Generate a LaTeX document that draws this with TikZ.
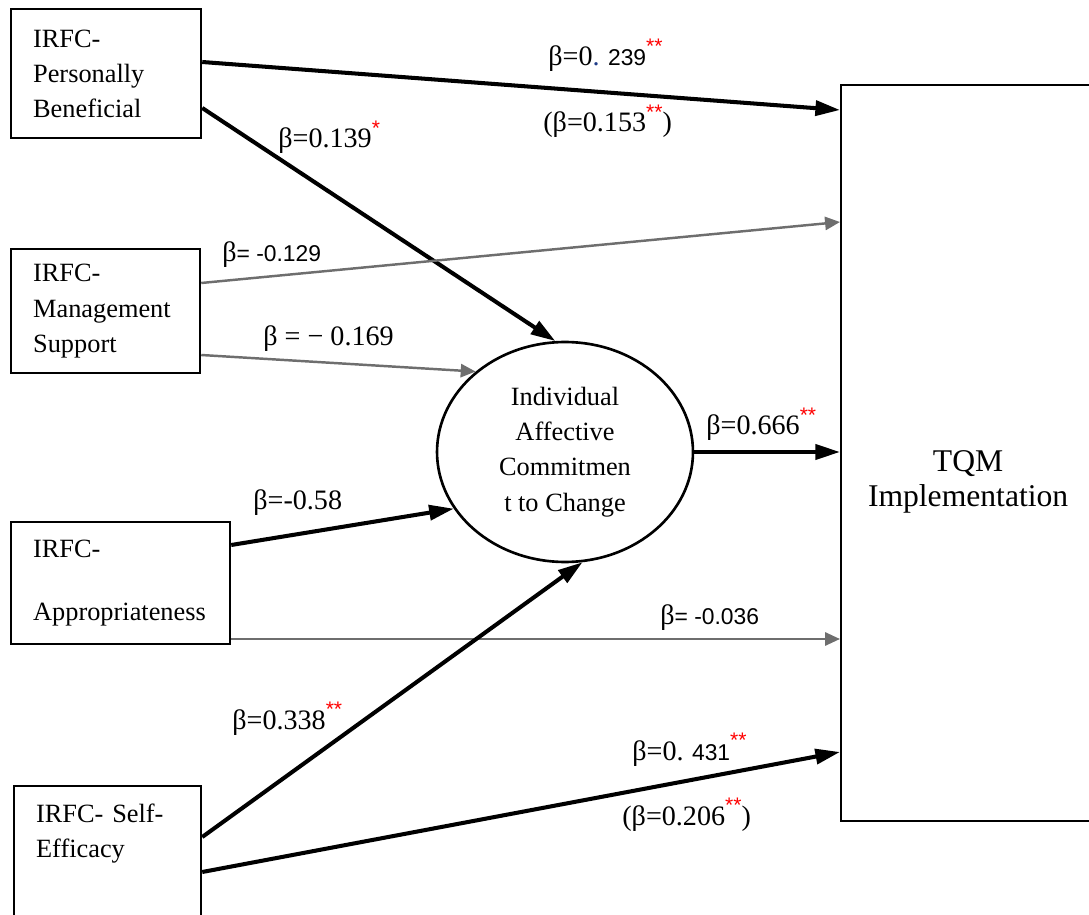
\documentclass[tikz,border=0pt]{standalone}
\usepackage{fontspec}
\setmainfont{Liberation Serif}
\newfontfamily\arialfont{Liberation Sans}
\usetikzlibrary{calc,arrows.meta,shapes.geometric}

\definecolor{pathgray}{HTML}{6E6E6E}
\definecolor{dotblue}{HTML}{1F3C88}

\newcommand{\sans}[1]{{\arialfont\fontsize{13}{15}\selectfont #1}}
\newcommand{\sig}[1]{\raisebox{7pt}{\arialfont\fontsize{12}{12}\selectfont\color{red}#1}}

\tikzset{
  factor/.style={draw, line width=1.3pt, anchor=north west, inner xsep=0.44cm,
    align=left, font=\fontsize{15}{20}\selectfont},
  strong/.style={line width=2.3pt, -{Triangle[length=14pt,width=8.5pt]}},
  weak/.style={line width=1.4pt, pathgray, -{Triangle[length=8.5pt,width=7.5pt]}},
  coef/.style={anchor=base west, inner sep=0pt, font=\fontsize{16}{19}\selectfont},
}

\begin{document}
\begin{tikzpicture}[x=0.02cm, y=-0.02cm]

	\clip (0,0) rectangle (1089,915);

	% ---- factors

	\node[factor, minimum width=3.8cm, minimum height=2.58cm, text width=2.92cm] (pb) at (10,8)
		{IRFC-\\Personally\\Beneficial};
	\node[factor, minimum width=3.78cm, minimum height=2.48cm, text width=2.9cm] (ms) at (10,248)
		{IRFC-\\Management\\Support};
	\node[factor, minimum width=4.38cm, minimum height=2.44cm, text width=3.5cm] (app) at (10,521)
		{IRFC-\\[16pt]Appropriateness};
	\node[factor, minimum width=3.74cm, inner ysep=0.36cm, text width=2.86cm] (se) at (13,785)
		{IRFC- Self-\\Efficacy\\\mbox{}\\\mbox{}};

	% ---- mediator and outcome

	\node[draw, ellipse, line width=1.5pt, minimum width=5.12cm, minimum height=4.4cm,
		inner sep=0pt, align=center, font=\fontsize{15}{20}\selectfont] (iacc) at (565,452)
		{Individual\\Affective\\Commitmen\\t to Change};
	\node[factor, minimum width=5.08cm, minimum height=14.72cm, align=center,
		font=\fontsize{18}{20}\selectfont] (tqm) at (840,84)
		{\rule{0pt}{45pt}TQM\\Implementation};

	% ---- paths

	\draw[strong] ($(pb.north east)+(0,54)$) -- ($(tqm.north west)+(0,26)$);
	\draw[strong] ($(pb.north east)+(0,100)$) -- (iacc.95);
	\draw[weak] ($(ms.north east)+(0,35)$) -- ($(tqm.north west)+(0,138)$);
	\draw[weak] ($(ms.north east)+(0,107)$) -- (iacc.138);
	\draw[strong] ($(app.north east)+(0,24)$) -- (iacc.207);
	\draw[weak] ($(app.north east)+(0,118)$) -- ($(tqm.north west)+(0,555)$);
	\draw[strong] ($(se.north east)+(0,52)$) -- (iacc.279);
	\draw[strong] ($(se.north east)+(0,87)$) -- ($(tqm.north west)+(0,668)$);
	\draw[strong] (iacc.east) -- (iacc.east -| tqm.west);

	% ---- coefficients

	\node[coef] (c239) at (548,66) {β=0{\color{dotblue}.}\sans{ 239}\sig{**}};
	\node[coef] (c153) at (543,132) {(β=0.153\sig{**})};
	\node[coef] (c139) at (278,148) {β=0.139\sig{*}};
	\node[coef] (c129) at (222,262) {β\sans{= -0.129}};
	\node[coef] (c169) at (263,346) {β = − 0.169};
	\node[coef] (c058) at (253,510) {β=-0.58};
	\node[coef] (c666) at (706,435) {β=0.666\sig{**}};
	\node[coef] (c036) at (660,624) {β\sans{= -0.036}};
	\node[coef] (c338) at (232,729) {β=0.338\sig{**}};
	\node[coef] (c431) at (632,760) {β=0.\sans{ 431}\sig{**}};
	\node[coef] (c206) at (622,825) {(β=0.206\sig{**})};

\end{tikzpicture}
\end{document}
